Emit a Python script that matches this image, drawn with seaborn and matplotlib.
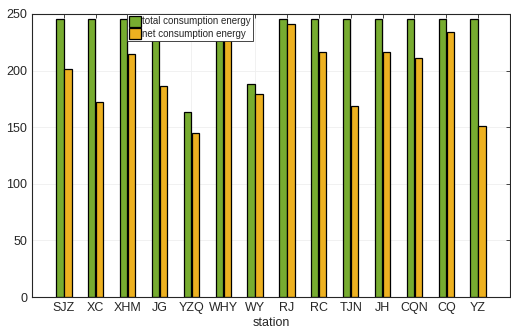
import pandas as pd
import matplotlib
matplotlib.use('Agg')
import matplotlib.pyplot as plt
import seaborn as sns

# station data
stations = ['SJZ', 'XC', 'XHM', 'JG', 'YZQ', 'WHY', 'WY', 'RJ', 'RC', 'TJN', 'JH', 'CQN', 'CQ', 'YZ']
total_energy = [246, 246, 246, 246, 163, 246, 188, 246, 246, 246, 246, 246, 246, 246]
net_energy = [201, 172, 215, 186, 145, 240, 179, 241, 216, 169, 216, 211, 234, 151]
series_names = ['total consumption energy', 'net consumption energy']

df = pd.DataFrame({
    'station': stations * 2,
    'energy': total_energy + net_energy,
    'type': [series_names[0]] * len(stations) + [series_names[1]] * len(stations),
})

sns.set_style('white')
plt.rcParams['font.family'] = ['Liberation Sans', 'DejaVu Sans']

fig = plt.figure(figsize=(5.11, 3.32), dpi=100)
ax = fig.add_axes([32 / 511, 1 - 297 / 332, 478 / 511, 283 / 332])

sns.barplot(data=df, x='station', y='energy', hue='type', ax=ax,
            palette=['#77AC30', '#EDB120'], width=0.5, gap=0.08,
            edgecolor='black', linewidth=0.9, saturation=1)

ax.set_xlim(-1, 14)
ax.set_ylim(0, 250)
ax.set_yticks([0, 50, 100, 150, 200, 250])
ax.set_xlabel('station', fontsize=9, color='#262626', labelpad=2)
ax.set_ylabel('')
ax.grid(True, color='#efefef', linewidth=0.6)
ax.set_axisbelow(True)
for s in ax.spines.values():
    s.set_visible(True)
    s.set_color('#262626')
    s.set_linewidth(0.8)
ax.tick_params(direction='in', top=True, right=True, length=3,
               labelsize=9, colors='#262626', width=0.6)

leg = ax.legend(loc='upper left', bbox_to_anchor=(0.199, 1.0), fontsize=7,
                frameon=True, fancybox=False, edgecolor='#262626',
                handlelength=1.2, handleheight=1.3, handletextpad=0.15,
                borderpad=0.2, labelspacing=0.15, borderaxespad=0,
                framealpha=1)
leg.get_frame().set_linewidth(0.6)

fig.savefig('out.png', dpi=100)
